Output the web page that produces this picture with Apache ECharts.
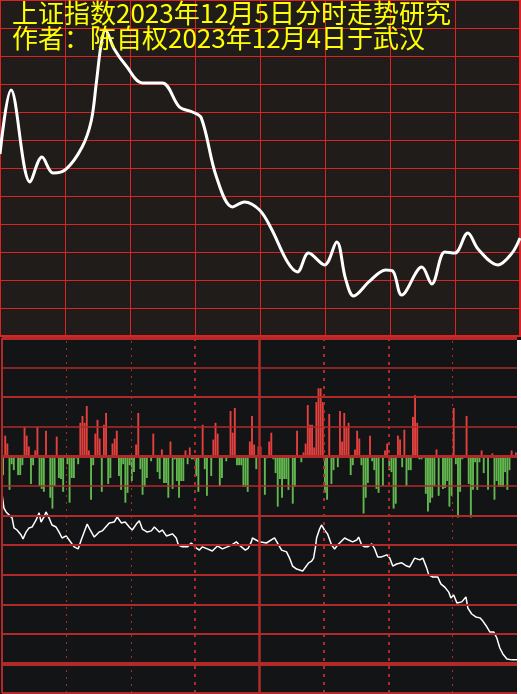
<!DOCTYPE html>
<html><head><meta charset="utf-8">
<script src="https://cdn.jsdelivr.net/npm/echarts@6/dist/echarts.min.js"></script>
<style>html,body{margin:0;padding:0;background:#fff;}#c{width:521px;height:694px;}</style>
</head><body><div id="c"></div>
<script>
const titleLine1 = '上证指数2023年12月5日分时走势研究';
const titleLine2 = '作者：陈自权2023年12月4日于武汉';

// Top panel: hand-drawn forecast curve (minute of session, relative level)
const topMinutes = [0,5.1,13.9,19.4,24.5,30.5,37.9,42.1,44.4,46.7,48.6,52.7,58.3,65.7,74.9,82.8,88.8,92.9,99.9,107.3,112.8,119.8,125.3,132.7,137.3,142.4,149.8,155.4,159.5,163.2,170.6,178.0,181.3,185.4,194.7,199.3,205.3,209.9,215.9,220.6,229.8,236.3,240];
const topLevels = [6.5,8.79,5.5,6.39,5.82,5.96,6.75,7.68,9.0,10.43,10.93,10.25,9.64,9.04,9.04,8.18,8.0,7.79,5.68,4.61,4.79,4.5,3.82,2.64,2.29,2.96,2.54,3.36,2.04,1.43,1.96,2.36,2.32,1.46,2.46,1.86,3.0,2.96,3.68,3.11,2.54,2.96,3.5];

// Bottom panel: per-minute red/green bars
const breadthBars = [
-19,21,13,-34,-8,-14,0,-19,-19,-9,
30,21,10,-28,-9,6,30,-30,-33,-36,
26,0,-42,-53,-30,20,-22,-23,-36,0,
-8,-47,-22,-22,-2,-8,34,41,34,51,
6,-44,-9,23,37,18,-36,32,44,-28,
-22,13,18,26,-20,-34,-8,-47,-37,-9,
-25,-16,12,44,-13,-39,-31,-22,0,-5,
23,0,-16,-23,7,-27,-27,-42,15,-33,
-3,-25,-42,-25,-25,6,-8,9,-3,-3,
-20,-36,0,32,-13,-40,-1,-20,17,34,
23,-30,-22,0,-5,0,46,24,49,-9,
-9,-9,-31,-31,-36,15,41,12,-13,10,
10,0,-39,-2,15,24,-3,-17,-51,-23,
-42,-23,-23,-34,0,-48,-31,26,0,-6,
4,13,52,32,32,9,55,69,69,55,
-37,-44,43,-28,-14,0,-11,46,15,44,
30,34,-19,-9,7,26,18,-9,-58,-42,
-27,21,-5,-14,-33,-37,0,-30,6,13,
-14,-16,-53,-48,21,17,-11,27,-30,-14,
-14,40,62,34,-3,-3,0,-38,-56,-47,
-42,-30,7,-40,0,-33,-32,-25,-51,-40,
49,-8,-62,-36,-3,0,41,-28,-62,-34,
-6,-34,-6,6,-17,0,-34,0,3,-44,
-25,-31,-31,-31,-16,-34,-14,6,0,4];

// Bottom panel: intraday index line (minute, index points)
const priceMinutes = [0,0.9,1.9,3.3,4.7,5.6,7.0,8.9,9.8,11.2,12.6,14.0,15.9,17.3,18.2,19.6,20.5,21.9,23.3,25.2,26.6,28.0,29.9,31.3,33.6,35.5,36.9,38.3,39.7,41.1,43.0,45.3,46.7,50.0,52.3,53.7,55.6,57.4,59.3,60.7,62.6,64.0,65.4,67.7,69.6,71.0,73.3,74.7,76.6,78.0,79.4,81.2,82.2,84.0,86.4,88.2,90.6,92.0,93.4,95.7,98.0,100.4,102.7,105.0,106.9,109.2,110.6,113.4,114.8,116.2,116.7,120.0,123.2,127.0,128.4,130.3,132.6,134.0,135.4,137.3,138.7,140.1,141.5,142.9,144.3,145.2,146.1,146.6,148.0,148.9,150.3,151.7,153.6,155.0,156.4,159.7,161.5,163.4,165.3,166.2,167.6,169.0,170.4,172.3,173.7,175.1,176.9,179.3,180.7,182.1,183.9,186.3,188.6,190.0,192.3,194.7,196.1,197.9,198.9,200.7,203.1,204.5,206.3,208.2,209.2,210.5,212.0,214.3,216.2,217.1,218.9,220.8,222.7,224.1,226.0,227.4,229.2,230.6,232.0,233.4,235.3,237.6,240.0];
const priceValues = [3028.3,3023.5,3022.2,3021.2,3020.2,3016.8,3016.1,3014.4,3013.1,3015.4,3016.8,3017.1,3019.5,3021.9,3018.8,3020.5,3022.2,3020.2,3017.8,3017.1,3015.4,3013.4,3014.1,3012.7,3010.4,3009.7,3012.7,3015.4,3018.1,3016.1,3013.7,3015.4,3015.8,3018.5,3018.8,3020.5,3018.5,3018.8,3017.1,3016.1,3018.1,3019.2,3016.4,3015.4,3015.8,3017.1,3015.4,3016.1,3014.1,3014.4,3014.8,3013.4,3011.0,3010.4,3010.4,3011.7,3010.0,3009.3,3010.4,3009.7,3009.0,3010.7,3009.7,3010.4,3011.0,3012.1,3011.0,3009.3,3010.0,3012.1,3013.4,3012.1,3011.7,3013.4,3011.7,3009.3,3008.7,3006.6,3003.9,3002.9,3002.6,3002.2,3003.6,3005.0,3005.6,3006.6,3010.4,3013.4,3016.4,3017.8,3016.1,3014.8,3011.0,3009.7,3011.0,3013.4,3012.7,3012.1,3012.7,3013.7,3011.0,3010.4,3010.4,3011.4,3009.7,3007.0,3007.0,3007.7,3006.6,3003.9,3004.6,3005.0,3003.9,3003.6,3006.6,3006.0,3006.6,3003.3,3000.9,3000.2,3000.2,2997.9,2996.8,2995.1,2993.1,2994.1,2991.4,2991.8,2993.5,2989.7,2987.7,2986.7,2986.4,2985.3,2983.3,2981.6,2981.6,2979.6,2976.2,2974.2,2972.5,2972.2,2972.2];

const minuteCategories = [];
for (let i = 0; i < breadthBars.length; i++) minuteCategories.push(i);

const gridRed = '#b02a2a';
const hLines = [
  {yAxis: 120, w: 3}, {yAxis: 90, w: 1.5}, {yAxis: 60, w: 2}, {yAxis: 30, w: 1.5},
  {yAxis: 0, w: 3}, {yAxis: -30, w: 1.5}, {yAxis: -60, w: 2}, {yAxis: -90, w: 2},
  {yAxis: -120, w: 2}, {yAxis: -150, w: 2}, {yAxis: -180, w: 2}, {yAxis: -210, w: 4},
  {yAxis: -240, w: 2}
].map(d => ({yAxis: d.yAxis, lineStyle: {color: gridRed, width: d.w, type: 'solid'}}));
const vLines = [
  {xAxis: 0, w: 2, t: 'solid'}, {xAxis: 30, w: 1, t: [2, 5]}, {xAxis: 60, w: 1, t: [2, 5]},
  {xAxis: 90, w: 2, t: [3, 5]}, {xAxis: 120, w: 2.5, t: 'solid'}, {xAxis: 150, w: 2, t: [3, 5]},
  {xAxis: 180, w: 2, t: [3, 5]}, {xAxis: 210, w: 1, t: [2, 5]}
].map(d => ({xAxis: d.xAxis, lineStyle: {color: gridRed, width: d.w, type: d.t}}));

const chart = echarts.init(document.getElementById('c'), null, {renderer: 'canvas'});
const hidden = {axisLine: {show: false}, axisTick: {show: false}, axisLabel: {show: false}};
chart.setOption({
  backgroundColor: '#131416',
  animation: false,
  title: [
    {text: titleLine1, left: 12, top: 0, padding: 0,
     textStyle: {color: '#ffff00', fontSize: 26, fontWeight: 'normal', fontFamily: 'Noto Sans CJK SC'}},
    {text: titleLine2, left: 12, top: 25, padding: 0,
     textStyle: {color: '#ffff00', fontSize: 26, fontWeight: 'normal', fontFamily: 'Noto Sans CJK SC'}}
  ],
  graphic: [
    {type: 'rect', shape: {x: 517, y: 340, width: 4, height: 354}, style: {fill: '#ffffff'}, z: 100}
  ],
  grid: [
    {left: 0, top: 0, width: 520, height: 336, show: true, backgroundColor: '#201c1a', borderColor: '#dc2222', borderWidth: 2},
    {left: 2, right: 4, top: 338, bottom: 1, show: true, backgroundColor: '#131416', borderWidth: 0}
  ],
  xAxis: [
    Object.assign({gridIndex: 0, type: 'value', min: 0, max: 240, interval: 30,
      splitLine: {show: true, lineStyle: {color: '#dc2222', width: 1}}}, hidden),
    Object.assign({gridIndex: 1, type: 'category', data: minuteCategories, boundaryGap: true, splitLine: {show: false}}, hidden),
    Object.assign({gridIndex: 1, type: 'value', min: 0, max: 240, splitLine: {show: false}}, hidden)
  ],
  yAxis: [
    Object.assign({gridIndex: 0, type: 'value', min: 0, max: 12, interval: 1,
      splitLine: {show: true, lineStyle: {color: '#dc2222', width: 1}}}, hidden),
    Object.assign({gridIndex: 1, type: 'value', min: -240, max: 120, interval: 30, splitLine: {show: false}}, hidden),
    Object.assign({gridIndex: 1, type: 'value', min: 2961, max: 3081, splitLine: {show: false}}, hidden)
  ],
  series: [
    {type: 'line', xAxisIndex: 0, yAxisIndex: 0, smooth: 0.35, showSymbol: false, z: 3,
     lineStyle: {color: '#ffffff', width: 3},
     data: topMinutes.map((m, i) => [m, topLevels[i]])},
    {type: 'line', xAxisIndex: 2, yAxisIndex: 2, showSymbol: false, z: 2,
     lineStyle: {color: '#ffffff', width: 1.5},
     data: priceMinutes.map((m, i) => [m, priceValues[i]]),
     markLine: {silent: true, symbol: ['none', 'none'], label: {show: false}, data: vLines}},
    {type: 'bar', xAxisIndex: 1, yAxisIndex: 1, barCategoryGap: '12%', z: 4,
     itemStyle: {color: p => p.value >= 0 ? '#e4403d' : '#62b84f'},
     data: breadthBars,
     markLine: {silent: true, symbol: ['none', 'none'], label: {show: false}, data: hLines}}
  ]
});
</script>
</body></html>
